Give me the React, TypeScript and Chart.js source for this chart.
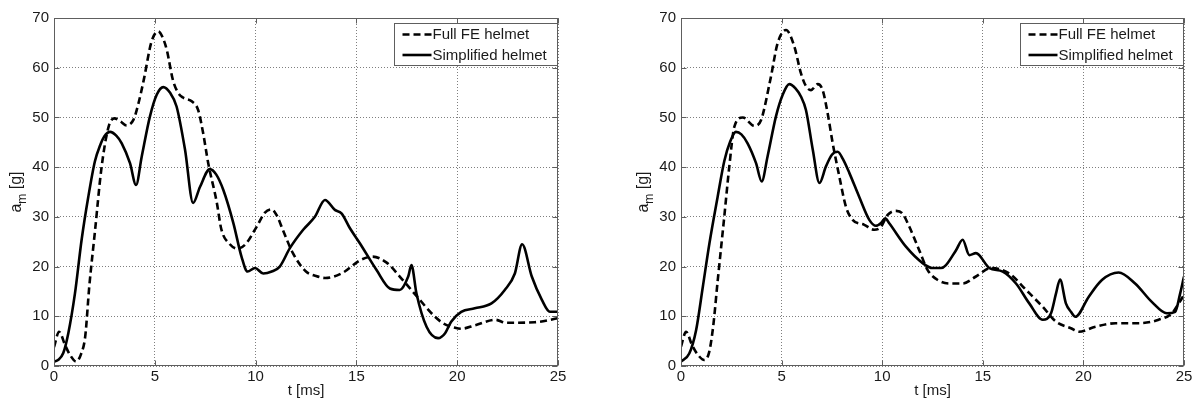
import React, { useEffect, useRef } from "react";
import { Chart, registerables } from "chart.js";

Chart.register(...registerables);

// ---------- data ----------
const xTicks = [0, 5, 10, 15, 20, 25];
const yTicks = [0, 10, 20, 30, 40, 50, 60, 70];
const seriesNames = ["Full FE helmet", "Simplified helmet"];
const xTitle = "t [ms]";
const yTitleMain = "a";
const yTitleSub = "m";
const yTitleTail = " [g]";

// Left panel — Full FE helmet (dashed)
const leftFullT = [0, 0.25, 0.55, 0.8, 1.1, 1.35, 1.55, 1.75, 2.03, 2.36, 2.7, 3.0, 3.3, 3.6, 3.95, 4.2, 4.45, 4.84, 5.17, 5.4, 5.6, 5.9, 6.15, 6.4, 6.85, 7.15, 7.4, 7.65, 8.07, 8.3, 8.7, 9.1, 9.5, 10.05, 10.45, 10.8, 11.05, 11.35, 11.85, 12.5, 13.0, 13.45, 14.3, 15.2, 15.8, 16.5, 17.15, 18.0, 18.8, 19.3, 19.9, 20.2, 20.9, 21.9, 22.4, 23.85, 25];
const leftFullA = [3.8, 6.9, 4.2, 2.2, 0.9, 2.5, 6, 16, 27, 40, 48, 49.8, 49.2, 48.4, 49.6, 53, 57.5, 65.3, 67.3, 66, 63.5, 57.5, 55, 54, 53.2, 51.5, 46.8, 40.8, 33, 27.5, 24.6, 23.6, 24.5, 28, 30.8, 31.5, 30.3, 27.4, 22.7, 19, 18.1, 17.7, 18.7, 21.3, 22, 20.8, 18, 14, 10.3, 8.6, 7.7, 7.5, 8.2, 9.3, 8.7, 8.8, 9.6];

// Left panel — Simplified helmet (solid)
const leftSimpT = [0, 0.2, 0.46, 0.71, 1.04, 1.37, 1.7, 2.03, 2.28, 2.5, 2.78, 3.1, 3.36, 3.77, 4.07, 4.35, 4.76, 5.1, 5.42, 5.75, 6.08, 6.5, 6.9, 7.24, 7.73, 8.05, 8.4, 8.9, 9.3, 9.6, 9.97, 10.38, 10.8, 11.2, 11.7, 12.36, 12.94, 13.44, 13.93, 14.26, 14.68, 15.17, 16.0, 16.66, 17.15, 17.57, 17.73, 17.98, 18.48, 19.05, 19.4, 19.7, 20.2, 20.87, 21.7, 22.36, 22.86, 23.22, 23.7, 24.2, 24.6, 25];
const leftSimpA = [0.9, 1.2, 2.6, 6.6, 14.6, 25.4, 34, 41.2, 44.3, 46.2, 47.1, 46.3, 44.8, 40.8, 36.4, 42.1, 50.2, 54.6, 56.1, 55, 52.2, 43.5, 32.8, 36, 39.6, 38.5, 35.4, 28.7, 22, 19, 19.7, 18.6, 19, 20, 23.7, 27.4, 30, 33.4, 31.4, 30.7, 27.7, 24.7, 19.3, 15.6, 15.3, 18, 20.3, 14.6, 7.9, 5.6, 6.6, 8.9, 10.9, 11.6, 12.6, 15.3, 18.6, 24.5, 18, 13.3, 10.9, 10.9];

// Right panel — Full FE helmet (dashed)
const rightFullT = [0, 0.25, 0.55, 0.85, 1.16, 1.4, 1.6, 1.82, 2.15, 2.4, 2.65, 3.07, 3.64, 3.98, 4.47, 4.8, 5.22, 5.63, 5.96, 6.21, 6.46, 6.8, 7.04, 7.29, 7.54, 7.87, 8.2, 8.53, 9.11, 9.6, 9.94, 10.27, 10.69, 11.0, 11.35, 11.84, 12.26, 12.76, 13.34, 14.0, 14.66, 15.4, 16.32, 17.15, 17.98, 18.64, 19.38, 19.77, 20.6, 21.6, 22.75, 23.74, 24.4, 24.74, 25];
const rightFullA = [3.9, 6.9, 4.2, 2.2, 1.2, 2.8, 8, 17, 30, 40.1, 48.1, 50, 48.3, 49.5, 58.2, 64.9, 67.6, 64.3, 58.9, 56.3, 55.5, 56.7, 55.5, 50.8, 44.8, 38.1, 32, 29.4, 28.4, 27.4, 28, 30.4, 31.2, 30.7, 28, 23.3, 19.3, 17.3, 16.6, 16.6, 18, 19.7, 18.6, 15.3, 11.9, 8.9, 7.6, 6.9, 7.9, 8.6, 8.6, 9.3, 10.6, 12.6, 14.3];

// Right panel — Simplified helmet (solid)
const rightSimpT = [0, 0.41, 0.75, 1.08, 1.41, 1.82, 2.15, 2.45, 2.73, 3.0, 3.31, 3.73, 4.01, 4.3, 4.72, 5.05, 5.38, 5.7, 5.96, 6.21, 6.55, 6.88, 7.2, 7.5, 7.79, 8.05, 8.37, 8.86, 9.36, 9.69, 9.95, 10.15, 10.35, 11.18, 12.01, 12.5, 12.92, 13.17, 13.67, 14.0, 14.33, 14.66, 15.33, 15.99, 16.65, 17.31, 17.98, 18.39, 18.64, 18.84, 19.13, 19.38, 19.6, 20.26, 20.92, 21.75, 22.57, 23.4, 24.15, 24.56, 24.81, 25];
const rightSimpA = [0.9, 2.5, 7.2, 15.8, 24.6, 34, 41.2, 45.2, 47.1, 46.6, 44.8, 40.8, 37.1, 42.1, 50.2, 54.5, 56.7, 55.8, 54.2, 51.5, 43.5, 36.8, 40.1, 42.5, 43.1, 41.6, 38.8, 34, 29.4, 28.2, 28.8, 29.7, 28.7, 24, 20.7, 19.7, 19.7, 20.3, 23.3, 25.4, 22.3, 22.7, 19.7, 19, 16.6, 12.6, 9.3, 10.6, 14.6, 17.4, 12.6, 10.9, 9.9, 13.9, 17.3, 18.8, 16.6, 12.9, 10.6, 10.9, 14.6, 18];

// ---------- style ----------
const FONT = "'Liberation Sans', Arial, sans-serif";
const TEXT_COLOR = "#1a1a1a";
const FRAME_COLOR = "#5e5e5e";
const GRID_COLOR = "rgba(0,0,0,0.5)";

function toPoints(t: number[], a: number[]) {
  return t.map((x, i) => ({ x, y: a[i] }));
}

const matlabPlugin = {
  id: "matlabStyle",
  afterDatasetsDraw(chart: any) {
    const { ctx, chartArea } = chart;
    const boxW = 163;
    const boxH = 42;
    const bx = Math.round(chartArea.right - 1.5 - boxW) + 0.5;
    const by = Math.round(chartArea.top + 5) + 0.5;
    ctx.save();
    ctx.fillStyle = "#ffffff";
    ctx.fillRect(bx, by, boxW, boxH);
    ctx.strokeStyle = FRAME_COLOR;
    ctx.lineWidth = 1;
    ctx.strokeRect(bx, by, boxW, boxH);
    ctx.font = `15px ${FONT}`;
    ctx.textBaseline = "middle";
    ctx.textAlign = "left";
    chart.data.datasets.forEach((ds: any, i: number) => {
      const cy = by + 11 + i * 20.5;
      ctx.beginPath();
      ctx.setLineDash(ds.borderDash || []);
      ctx.lineWidth = ds.borderWidth;
      ctx.strokeStyle = ds.borderColor;
      ctx.moveTo(bx + 8, cy);
      ctx.lineTo(bx + 37, cy);
      ctx.stroke();
      ctx.setLineDash([]);
      ctx.fillStyle = TEXT_COLOR;
      ctx.fillText(ds.label, bx + 38, cy + 0.5);
    });
    ctx.restore();
  },
  afterDraw(chart: any) {
    const { ctx, chartArea, scales } = chart;
    const l = Math.round(chartArea.left) + 0.5;
    const r = Math.round(chartArea.right) - 0.5;
    const t = Math.round(chartArea.top) + 0.5;
    const b = Math.round(chartArea.bottom) - 0.5;
    ctx.save();
    ctx.strokeStyle = FRAME_COLOR;
    ctx.lineWidth = 1;
    ctx.setLineDash([]);
    ctx.strokeRect(l, t, r - l, b - t);
    const tl = 5;
    ctx.beginPath();
    xTicks.forEach((v) => {
      const px = Math.round(scales.x.getPixelForValue(v)) + 0.5;
      ctx.moveTo(px, b);
      ctx.lineTo(px, b - tl);
      ctx.moveTo(px, t);
      ctx.lineTo(px, t + tl);
    });
    yTicks.forEach((v) => {
      const py = Math.round(scales.y.getPixelForValue(v)) + 0.5;
      ctx.moveTo(l, py);
      ctx.lineTo(l + tl, py);
      ctx.moveTo(r, py);
      ctx.lineTo(r - tl, py);
    });
    ctx.stroke();

    // y-axis title with subscript
    const mainFont = `16px ${FONT}`;
    const subFont = `12px ${FONT}`;
    ctx.font = mainFont;
    const wA = ctx.measureText(yTitleMain).width;
    const wTail = ctx.measureText(yTitleTail).width;
    ctx.font = subFont;
    const wSub = ctx.measureText(yTitleSub).width;
    const total = wA + wSub + wTail;
    const cx = chartArea.left - 37;
    const cy = (chartArea.top + chartArea.bottom) / 2;
    ctx.translate(cx, cy);
    ctx.rotate(-Math.PI / 2);
    ctx.fillStyle = TEXT_COLOR;
    ctx.textBaseline = "alphabetic";
    ctx.textAlign = "left";
    let x0 = -total / 2;
    const base = 4;
    ctx.font = mainFont;
    ctx.fillText(yTitleMain, x0, base);
    x0 += wA;
    ctx.font = subFont;
    ctx.fillText(yTitleSub, x0, base + 5);
    x0 += wSub;
    ctx.font = mainFont;
    ctx.fillText(yTitleTail, x0, base);
    ctx.restore();
  },
};

function makeConfig(
  fullT: number[],
  fullA: number[],
  simpT: number[],
  simpA: number[],
  padLeft: number,
  padRight: number
): any {
  return {
    type: "line",
    data: {
      datasets: [
        {
          label: seriesNames[0],
          data: toPoints(fullT, fullA),
          borderColor: "#000000",
          borderWidth: 2.6,
          borderDash: [7, 4],
          pointRadius: 0,
          fill: false,
          cubicInterpolationMode: "monotone",
        },
        {
          label: seriesNames[1],
          data: toPoints(simpT, simpA),
          borderColor: "#000000",
          borderWidth: 2.6,
          borderDash: [],
          pointRadius: 0,
          fill: false,
          cubicInterpolationMode: "monotone",
        },
      ],
    },
    options: {
      responsive: false,
      animation: false,
      events: [],
      layout: { padding: { left: padLeft, right: padRight, top: 18, bottom: 0 } },
      plugins: {
        legend: { display: false },
        tooltip: { enabled: false },
      },
      scales: {
        x: {
          type: "linear",
          min: 0,
          max: 25,
          afterFit: (s: any) => {
            s.height = 37;
          },
          afterBuildTicks: (s: any) => {
            s.ticks = xTicks.map((v) => ({ value: v }));
          },
          ticks: {
            font: { family: FONT, size: 15 },
            color: TEXT_COLOR,
            padding: 2,
            maxRotation: 0,
            autoSkip: false,
          },
          grid: { color: GRID_COLOR, lineWidth: 1, drawTicks: false },
          border: { display: false, dash: [1, 2] },
          title: {
            display: true,
            text: xTitle,
            color: TEXT_COLOR,
            font: { family: FONT, size: 15 },
            padding: { top: 0, bottom: 3 },
          },
        },
        y: {
          type: "linear",
          min: 0,
          max: 70,
          afterFit: (s: any) => {
            s.width = 54;
          },
          afterBuildTicks: (s: any) => {
            s.ticks = yTicks.map((v) => ({ value: v }));
          },
          ticks: {
            font: { family: FONT, size: 15 },
            color: TEXT_COLOR,
            padding: 5,
            autoSkip: false,
          },
          grid: { color: GRID_COLOR, lineWidth: 1, drawTicks: false },
          border: { display: false, dash: [1, 2] },
        },
      },
    },
    plugins: [matlabPlugin],
  };
}

function Panel(props: {
  left: number;
  fullT: number[];
  fullA: number[];
  simpT: number[];
  simpA: number[];
  padLeft: number;
  padRight: number;
}) {
  const ref = useRef<HTMLCanvasElement | null>(null);
  useEffect(() => {
    if (!ref.current) return;
    const chart = new Chart(
      ref.current,
      makeConfig(props.fullT, props.fullA, props.simpT, props.simpA, props.padLeft, props.padRight)
    );
    return () => chart.destroy();
  }, []);
  return (
    <canvas
      ref={ref}
      width={599}
      height={403}
      style={{ position: "absolute", left: props.left, top: 0, width: 599, height: 403 }}
    />
  );
}

export default function App() {
  return (
    <div
      style={{
        position: "absolute",
        left: 0,
        top: 0,
        width: 1198,
        height: 403,
        background: "#ffffff",
        overflow: "hidden",
      }}
    >
      <Panel left={0} fullT={leftFullT} fullA={leftFullA} simpT={leftSimpT} simpA={leftSimpA} padLeft={0} padRight={41} />
      <Panel left={599} fullT={rightFullT} fullA={rightFullA} simpT={rightSimpT} simpA={rightSimpA} padLeft={28} padRight={14} />
    </div>
  );
}
